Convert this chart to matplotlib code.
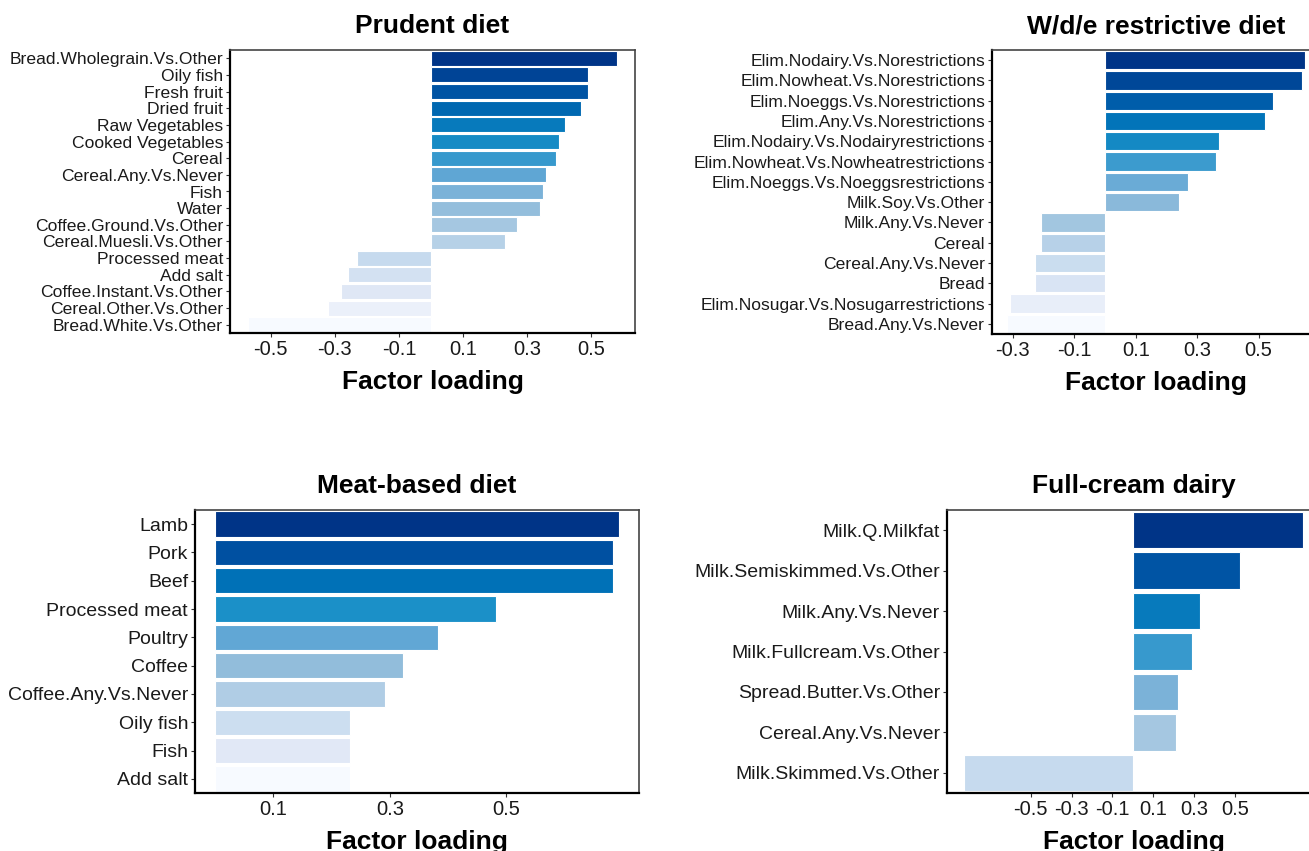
import numpy as np
import matplotlib
matplotlib.use("Agg")
import matplotlib.pyplot as plt
from matplotlib.colors import LinearSegmentedColormap

plt.rcParams["font.family"] = ["Liberation Sans", "DejaVu Sans"]

# factor loadings per dietary pattern (top bar first)
prudent_items = ["Bread.Wholegrain.Vs.Other", "Oily fish", "Fresh fruit", "Dried fruit",
                 "Raw Vegetables", "Cooked Vegetables", "Cereal", "Cereal.Any.Vs.Never",
                 "Fish", "Water", "Coffee.Ground.Vs.Other", "Cereal.Muesli.Vs.Other",
                 "Processed meat", "Add salt", "Coffee.Instant.Vs.Other",
                 "Cereal.Other.Vs.Other", "Bread.White.Vs.Other"]
prudent_loadings = [0.580, 0.490, 0.490, 0.470, 0.419, 0.399, 0.390, 0.360, 0.350, 0.340,
                    0.270, 0.230, -0.230, -0.259, -0.280, -0.321, -0.570]

wde_items = ["Elim.Nodairy.Vs.Norestrictions", "Elim.Nowheat.Vs.Norestrictions",
             "Elim.Noeggs.Vs.Norestrictions", "Elim.Any.Vs.Norestrictions",
             "Elim.Nodairy.Vs.Nodairyrestrictions", "Elim.Nowheat.Vs.Nowheatrestrictions",
             "Elim.Noeggs.Vs.Noeggsrestrictions", "Milk.Soy.Vs.Other", "Milk.Any.Vs.Never",
             "Cereal", "Cereal.Any.Vs.Never", "Bread", "Elim.Nosugar.Vs.Nosugarrestrictions",
             "Bread.Any.Vs.Never"]
wde_loadings = [0.651, 0.642, 0.545, 0.521, 0.371, 0.362, 0.270, 0.241, -0.207, -0.207,
                -0.226, -0.226, -0.308, -0.319]

meat_items = ["Lamb", "Pork", "Beef", "Processed meat", "Poultry", "Coffee",
              "Coffee.Any.Vs.Never", "Oily fish", "Fish", "Add salt"]
meat_loadings = [0.693, 0.683, 0.683, 0.482, 0.382, 0.322, 0.292, 0.231, 0.231, 0.231]

dairy_items = ["Milk.Q.Milkfat", "Milk.Semiskimmed.Vs.Other", "Milk.Any.Vs.Never",
               "Milk.Fullcream.Vs.Other", "Spread.Butter.Vs.Other", "Cereal.Any.Vs.Never",
               "Milk.Skimmed.Vs.Other"]
dairy_loadings = [0.835, 0.527, 0.330, 0.289, 0.221, 0.210, -0.828]

BREAKS = [-0.5, -0.3, -0.1, 0.1, 0.3, 0.5]
BLUES = LinearSegmentedColormap.from_list("blues_dark", [
    "#003487", "#0050A1", "#0072B8", "#1B90C8", "#62A7D5",
    "#92BDDB", "#B0CDE5", "#CCDEF0", "#E1E8F6", "#F7FAFF"])

W, H = 1309, 851


def rect(l, r, t, b):
    return [l / W, 1 - b / H, (r - l) / W, (b - t) / H]


def loading_panel(fig, box, title, items, vals, label_size, shade_end=1.0):
    ax = fig.add_axes(rect(*box))
    n = len(items)
    y = np.arange(n)
    cols = BLUES(np.linspace(0, shade_end, n))
    ax.barh(y, vals, height=0.9, color=cols, edgecolor="white", linewidth=0.8)

    # ggplot-style 5% expansion of the data range
    lo, hi = min(0, min(vals)), max(0, max(vals))
    pad = 0.05 * (hi - lo)
    ax.set_xlim(lo - pad, hi + pad)
    ax.set_ylim(n - 0.5, -0.5)

    ticks = [t for t in BREAKS if lo - pad <= t <= hi + pad]
    ax.set_xticks(ticks)
    ax.set_xticklabels([f"{t:.1f}" for t in ticks], fontsize=14.5, color="#1a1a1a")
    ax.set_yticks(y)
    ax.set_yticklabels(items, fontsize=label_size, color="#1a1a1a")
    ax.tick_params(length=3, width=0.8, color="#333333", pad=2)

    for s in ("left", "bottom"):
        ax.spines[s].set_linewidth(1.6)
        ax.spines[s].set_color("black")
    for s in ("top", "right"):
        ax.spines[s].set_linewidth(1.2)
        ax.spines[s].set_color("#444444")

    ax.set_title(title, fontsize=19, fontweight="bold", pad=12)
    ax.set_xlabel("Factor loading", fontsize=19, fontweight="bold", labelpad=8)
    return ax


fig = plt.figure(figsize=(W / 100, H / 100), dpi=100)
loading_panel(fig, (230, 635, 50, 333), "Prudent diet", prudent_items, prudent_loadings, 12.6)
loading_panel(fig, (992, 1320, 50, 334), "W/d/e restrictive diet", wde_items, wde_loadings, 12.6)
loading_panel(fig, (195, 639, 510, 793), "Meat-based diet", meat_items, meat_loadings, 14)
loading_panel(fig, (947, 1320, 510, 793), "Full-cream dairy", dairy_items, dairy_loadings, 14,
              shade_end=0.75)

fig.savefig("out.png", dpi=100, facecolor="white")
